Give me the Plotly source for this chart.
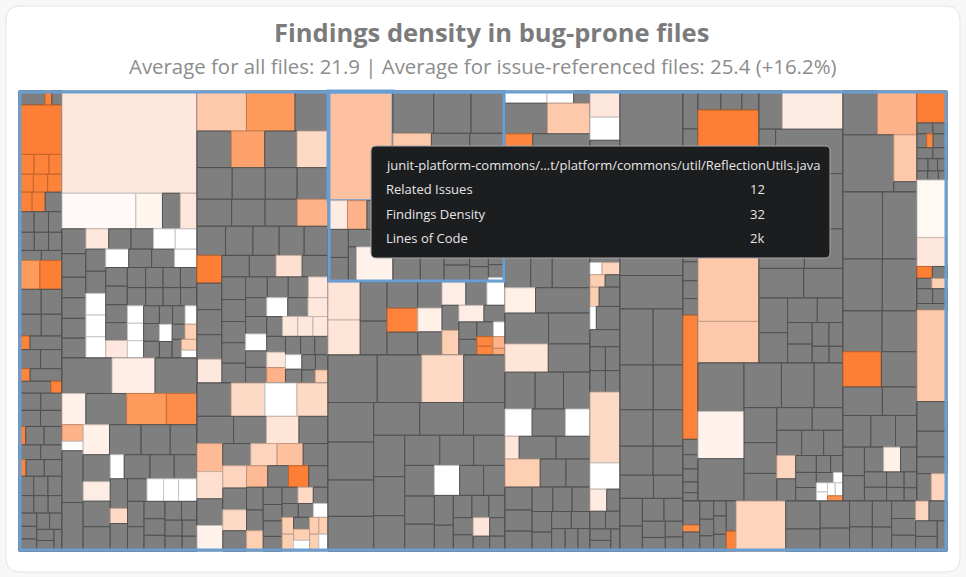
import plotly.graph_objects as go

W, H = 966, 577

# ---------------- data ----------------
# Each module is one folder of the repository. Files are sized by lines of code and
# coloured by findings density; density 0 / "other" = file not referenced by any issue (grey).
modules = ["junit-jupiter-engine/descriptor", "junit-jupiter-engine/execution",
           "junit-jupiter-engine/extension", "junit-jupiter-engine/discovery",
           "junit-jupiter-engine/support", "junit-platform-commons/util",
           "junit-platform-commons/util/function", "junit-platform-commons/support",
           "junit-platform-commons/logging", "junit-platform-launcher/core",
           "junit-platform-launcher/listeners", "junit-platform-engine/support",
           "junit-platform-console/options", "junit-jupiter-params/provider",
           "junit-jupiter-params/converter", "junit-jupiter-api/api",
           "junit-vintage-engine/execution", "junit-vintage-engine/descriptor",
           "junit-platform-suite/engine", "junit-platform-reporting/xml"]

# --- modules listed file by file in folder order ---
m01_loc = [105, 28, 41, 613, 86, 86, 74, 74, 74, 74, 74, 74, 95, 90, 85, 80, 80, 75, 70, 65, 60,
           174, 183, 160, 150, 140, 130, 43, 125, 120, 118, 40, 115, 110, 38, 108, 105, 100, 100, 36,
           98, 95, 92, 90, 34, 88, 85, 82, 80, 78, 75, 72, 70, 68, 65, 62, 60, 58, 55, 52, 50]
m01_density = [0, 50, 0, 52, 50, 50, 50, 50, 50, 50, 50, 50, 0, 0, 0, 0, 0, 0, 0, 0, 0,
               42, 52, 0, 0, 0, 0, 50, 0, 0, 0, 48, 0, 0, 50, 0, 0, 0, 0, 50,
               0, 0, 0, 0, 48, 0, 0, 0, 0, 0, 0, 0, 0, 0, 0, 0, 0, 0, 0, 0, 0]

m04_loc = [486, 418, 408, 204, 349, 340, 262, 96, 55, 300, 280, 217, 260, 240, 220, 200, 145, 190,
           180, 92, 170, 160, 150, 140, 72, 130, 120, 102, 93, 114, 115, 110, 100, 95, 90, 85, 80,
           75, 70, 65, 60]
m04_density = [0, 17, 0, 16, 0, 42, 46, 36, 10, 0, 0, 16, 0, 0, 0, 0, 17, 0,
               0, 10, 0, 0, 0, 0, 24, 0, 0, 10, 10, 10, 0, 0, 0, 0, 0, 0, 0,
               0, 0, 0, 0]

m06_loc = [2000, 157, 157, 210, 160, 140, 120, 100, 80, 360]
m06_density = [32, 18, 36, 0, 0, 0, 0, 0, 0, 15]

m08_loc = [152, 97, 59, 387, 387, 300, 620, 560, 500, 470, 450, 300, 250, 440, 230, 410, 400, 380,
           363, 350, 330, 310, 290, 220, 270, 200, 96, 250, 230, 293, 215, 200, 185, 170, 160, 150,
           140, 130, 120, 110, 100, 95, 90, 85, 80]
m08_density = [10, 10, 0, 0, 30, 48, 0, 0, 0, 0, 0, 0, 0, 0, 16, 0, 0, 0,
               20, 0, 0, 0, 0, 10, 0, 10, 20, 0, 0, 28, 0, 0, 0, 0, 0, 0,
               0, 0, 0, 0, 0, 0, 0, 0, 0]

m09_loc = [214, 189, 260, 230, 200, 180, 130, 40, 60, 51, 50, 48, 110, 40, 150, 140, 100, 95, 90, 85,
           580, 214, 101, 80, 75, 70, 65, 60, 55]
m09_density = [19, 10, 0, 0, 0, 0, 0, 10, 26, 28, 0, 28, 0, 10, 0, 0, 0, 0, 0, 0,
               24, 10, 18, 0, 0, 0, 0, 0, 0]

m11_loc = [160, 140, 120, 110, 100, 90, 80, 75, 70, 523, 65, 60, 55, 45, 35]
m11_density = [0, 0, 0, 0, 0, 0, 0, 0, 0, 50, 0, 0, 0, 0, 0]

m12_loc = [120, 110, 90, 1050, 420, 330, 260, 210, 170, 1098, 697]
m12_density = [0, 0, 0, 52, 0, 0, 0, 0, 0, 30, 30]

m13_loc = [267, 699, 223, 900, 760, 640, 540, 460, 400, 350, 300, 260, 220, 190, 160, 140, 120, 100, 85, 70]
m13_density = [0, 18, 0, 0, 0, 0, 0, 0, 0, 0, 0, 0, 0, 0, 0, 0, 0, 0, 0, 0]

m15a_loc = [430, 497, 830, 310, 68]
m15a_density = [0, 36, 0, 30, 0]

m16_loc = [248, 45, 40, 35, 23, 50, 45, 40, 35, 30, 30, 25, 25, 20, 448, 224, 47, 45, 40, 41, 60, 55,
           50, 712, 230, 200, 130, 100, 112]
m16_density = [52, 0, 0, 0, 48, 0, 0, 0, 0, 0, 0, 0, 0, 0, 13, 19, 52, 0, 0, 28, 0, 0,
               0, 30, 0, 0, 0, 0, 26]

m17_loc = [96, 28, 76, 60, 55, 50, 45, 55, 50, 70, 46, 591, 230, 180, 190, 160, 140, 130, 120, 110,
           100, 95, 90, 63, 85, 80, 75, 70]
m17_density = [0, 46, 0, 0, 0, 0, 0, 0, 0, 0, 50, 26, 0, 0, 0, 0, 0, 0, 0, 0,
               0, 0, 0, 26, 0, 0, 0, 0]

# --- modules given as issue-referenced files + other files (laid out largest first) ---
m02_issue_loc = [3934, 750, 270, 171, 108, 81, 81, 63, 63, 34, 126, 132, 120, 120, 123, 117, 123, 126, 80, 52, 48]
m02_issue_density = [19, 12, 14, 19, 19, 10, 10, 10, 10, 10, 10, 19, 10, 10, 10, 10, 10, 10, 10, 28, 28]
m02_other_loc = [180, 170, 160, 140, 140, 135, 135, 130, 130, 125, 125, 120, 120, 115, 115, 110, 110,
                 105, 100, 100, 95, 95, 90, 90, 85, 80, 80, 75, 70, 65, 60, 55, 50]

m03_issue_loc = [570, 560, 354, 327, 240, 199, 171, 162, 118, 114, 109, 103, 87, 86, 86, 84, 83, 68, 48]
m03_issue_density = [30, 42, 40, 24, 36, 52, 19, 22, 19, 10, 19, 10, 19, 19, 19, 19, 36, 10, 28]
m03_other_loc = [380, 360, 340, 320, 300, 290, 280, 270, 260, 250, 240, 230, 220, 210, 200, 190, 180,
                 175, 170, 165, 160, 155, 150, 145, 140, 135, 130, 125, 120, 115, 110, 105, 100, 95,
                 90, 85, 80, 75, 70, 65, 60, 55, 50]

m05_issue_loc = [328, 310, 300, 257, 210, 204, 191, 170, 168, 154, 145, 132, 126, 98, 73, 59, 56, 56,
                 52, 50, 45, 45, 45, 45]
m05_issue_density = [24, 10, 24, 20, 34, 22, 15, 26, 32, 26, 24, 34, 52, 28, 24, 10, 28, 28, 28, 10,
                     28, 28, 28, 10]
m05_other_loc = [330, 290, 260, 230, 200, 180, 160, 150, 140, 130, 120, 110, 100, 95, 90, 85, 80, 75,
                 70, 65, 60, 55]

m06b_issue_loc = [360, 182, 132, 20]
m06b_issue_density = [30, 14, 22, 10]
m06b_other_loc = [480, 440, 400, 360, 330, 300, 280, 260, 240, 220, 200, 190, 180, 170, 160, 150, 140,
                  130, 120, 110, 100, 90, 80, 70, 60]

m07a_issue_loc = [349, 321, 210, 165, 158, 120, 119, 119, 49, 44, 40, 40, 23]
m07a_issue_density = [20, 20, 50, 16, 17, 10, 28, 17, 10, 48, 48, 36, 38]
m07a_other_loc = [300, 260, 230, 200, 180, 160, 140, 120, 100, 90, 80, 70]

m07b_issue_loc = [527, 201, 81]
m07b_issue_density = [24, 10, 20]
m07b_other_loc = [620, 560, 520, 480, 460, 440, 420, 400, 380, 360, 340, 320, 290, 280, 270, 250, 240,
                  220, 210, 190, 170, 150, 130, 110, 100, 95, 90, 85, 75, 65, 60]

m10_issue_loc = []
m10_issue_density = []
m10_other_loc = [1150, 980, 860, 760, 680, 600, 540, 480, 430, 390, 350, 310, 280, 250, 220, 200, 180,
                 160, 140, 120, 100, 90, 80]

m14_issue_loc = [626, 126, 29, 29, 29, 29, 29, 23]
m14_issue_density = [15, 26, 10, 10, 10, 10, 10, 45]
m14_other_loc = [640, 560, 480, 420, 370, 330, 290, 260, 230, 200, 180, 160, 140, 120, 100, 90, 80, 70, 60, 50]

m15b_issue_loc = [398, 123]
m15b_issue_density = [52, 16]
m15b_other_loc = [780, 680, 600, 530, 470, 420, 370, 330, 290, 260, 230, 200, 180, 160, 140, 120, 100,
                  90, 80, 70, 60, 50]

title_text = "Findings density in bug-prone files"
subtitle_text = "Average for all files: 21.9 | Average for issue-referenced files: 25.4 (+16.2%)"
hover_path = "junit-platform-commons/…t/platform/commons/util/ReflectionUtils.java"
hover_rows = ["Related Issues", "Findings Density", "Lines of Code"]
hover_vals = ["12", "32", "2k"]


def pairs(loc, dens):
    return list(zip(loc, dens))


def split_pairs(issue_loc, issue_dens, other_loc):
    return list(zip(issue_loc, issue_dens)) + [(v, 0) for v in other_loc]


# (files, laid out largest-first?)
module_files = [
    (pairs(m01_loc, m01_density), False),
    (split_pairs(m02_issue_loc, m02_issue_density, m02_other_loc), True),
    (split_pairs(m03_issue_loc, m03_issue_density, m03_other_loc), True),
    (pairs(m04_loc, m04_density), False),
    (split_pairs(m05_issue_loc, m05_issue_density, m05_other_loc), True),
    (pairs(m06_loc, m06_density), False),
    (split_pairs(m06b_issue_loc, m06b_issue_density, m06b_other_loc), True),
    (split_pairs(m07a_issue_loc, m07a_issue_density, m07a_other_loc), True),
    (split_pairs(m07b_issue_loc, m07b_issue_density, m07b_other_loc), True),
    (pairs(m08_loc, m08_density), False),
    (pairs(m09_loc, m09_density), False),
    (split_pairs(m10_issue_loc, m10_issue_density, m10_other_loc), True),
    (pairs(m11_loc, m11_density), False),
    (pairs(m12_loc, m12_density), False),
    (pairs(m13_loc, m13_density), False),
    (split_pairs(m14_issue_loc, m14_issue_density, m14_other_loc), True),
    (pairs(m15a_loc, m15a_density), False),
    (split_pairs(m15b_issue_loc, m15b_issue_density, m15b_other_loc), True),
    (pairs(m16_loc, m16_density), False),
    (pairs(m17_loc, m17_density), False),
]

# ---------------- layout (pixel panel of each module) ----------------
panel_px = [(19, 91, 62, 551), (62, 91, 197, 358), (197, 91, 328, 383), (62, 358, 197, 551),
            (197, 383, 328, 551), (328, 91, 393, 282), (393, 91, 505, 282), (328, 282, 505, 355),
            (328, 355, 505, 551), (505, 91, 590, 551), (590, 91, 620, 551), (620, 91, 683, 551),
            (683, 91, 698, 501), (698, 91, 759, 363), (759, 91, 843, 363), (698, 363, 843, 501),
            (843, 91, 917, 192), (843, 192, 917, 501), (917, 91, 947, 501), (683, 501, 947, 551)]
highlight_px = (328, 91, 505, 282)
HOVER_MODULE, HOVER_FILE = 5, 0
BLUE = "#6a9fd3"
GRAY = "#7f7f7f"
GRAY_LINE = "#505050"

stops = [(10, (255, 255, 255)), (14, (255, 245, 239)), (19, (254, 232, 221)), (24, (253, 218, 198)),
         (30, (253, 201, 170)), (36, (253, 178, 138)), (42, (253, 154, 92)), (48, (253, 135, 62)),
         (52, (253, 127, 53))]


def dens_rgb(d):
    if d <= stops[0][0]:
        return stops[0][1]
    for (d0, c0), (d1, c1) in zip(stops, stops[1:]):
        if d <= d1:
            t = (d - d0) / (d1 - d0)
            return tuple(round(a + (b - a) * t) for a, b in zip(c0, c1))
    return stops[-1][1]


def hexc(c):
    return "#%02x%02x%02x" % c


def px_x(x):
    return x / W


def px_y(y):
    return 1 - y / H


fig = go.Figure()
for mi, name in enumerate(modules):
    files, do_sort = module_files[mi]
    root = name
    ids, labels, parents, values = [root], [name], [""], [0]
    colors, lcol, lw = [GRAY], [GRAY_LINE], [1]
    for k, (v, d) in enumerate(files):
        hovered = (mi == HOVER_MODULE and k == HOVER_FILE)
        ids.append(f"{root}/f{k}")
        labels.append("ReflectionUtils.java" if hovered else f"File{k + 1}.java")
        parents.append(root)
        values.append(v)
        if d > 0:
            c = dens_rgb(d)
            colors.append(hexc(c))
            lcol.append(BLUE if hovered else hexc(tuple(int(x * 0.78) for x in c)))
            lw.append(3 if hovered else 1)
        else:
            colors.append(GRAY)
            lcol.append(GRAY_LINE)
            lw.append(1)
    x0, y0, x1, y1 = panel_px[mi]
    fig.add_trace(go.Treemap(
        ids=ids, labels=labels, parents=parents, values=values,
        branchvalues="remainder", sort=do_sort, textinfo="none", hoverinfo="skip",
        marker=dict(colors=colors, line=dict(color=lcol, width=lw), pad=dict(t=0, l=0, r=0, b=0)),
        pathbar=dict(visible=False), tiling=dict(pad=0, packing="squarify"),
        domain=dict(x=[px_x(x0), px_x(x1)], y=[px_y(y1), px_y(y0)]),
    ))


def rounded_path(x0, y0, x1, y1, r):
    rx, ry = r / W, r / H
    X0, X1, Y0, Y1 = px_x(x0), px_x(x1), px_y(y0), px_y(y1)
    return (f"M {X0 + rx},{Y0} L {X1 - rx},{Y0} Q {X1},{Y0} {X1},{Y0 - ry} "
            f"L {X1},{Y1 + ry} Q {X1},{Y1} {X1 - rx},{Y1} L {X0 + rx},{Y1} Q {X0},{Y1} {X0},{Y1 + ry} "
            f"L {X0},{Y0 - ry} Q {X0},{Y0} {X0 + rx},{Y0} Z")


shapes = [
    dict(type="path", xref="paper", yref="paper", path=rounded_path(6, 6, 960, 572, 14),
         fillcolor="white", line=dict(color="#e4e4e4", width=1), layer="below"),
    dict(type="rect", xref="paper", yref="paper", x0=px_x(20), x1=px_x(946), y0=px_y(550), y1=px_y(92),
         line=dict(color=BLUE, width=3), layer="above"),
]
hx0, hy0, hx1, hy1 = highlight_px
shapes.append(dict(type="rect", xref="paper", yref="paper", x0=px_x(hx0 + 1), x1=px_x(hx1 - 1),
                   y0=px_y(hy1 - 1), y1=px_y(hy0 + 1), line=dict(color=BLUE, width=3), layer="above"))
# tooltip box
shapes.append(dict(type="path", xref="paper", yref="paper", path=rounded_path(371, 146, 830, 258, 5),
                   fillcolor="#1c1d1f", line=dict(color="#a8a8a8", width=1), layer="above"))

FONT = "Open Sans"
annotations = [
    dict(text=f"<b>{title_text}</b>", x=px_x(492), y=px_y(32), xref="paper", yref="paper",
         showarrow=False, xanchor="center", yanchor="middle",
         font=dict(family=FONT, size=25.5, color="#7b7b7b")),
    dict(text=subtitle_text, x=px_x(483), y=px_y(66), xref="paper", yref="paper",
         showarrow=False, xanchor="center", yanchor="middle",
         font=dict(family=FONT, size=20.4, color="#8c8c8c")),
    dict(text=hover_path, x=px_x(384), y=px_y(165), xref="paper", yref="paper", showarrow=False,
         xanchor="left", yanchor="middle", font=dict(family=FONT, size=13, color="#e6e6e6")),
]
for r, (lab, val) in enumerate(zip(hover_rows, hover_vals)):
    yy = 189 + r * 24.5
    annotations.append(dict(text=lab, x=px_x(384), y=px_y(yy), xref="paper", yref="paper",
                            showarrow=False, xanchor="left", yanchor="middle",
                            font=dict(family=FONT, size=13, color="#e6e6e6")))
    annotations.append(dict(text=val, x=px_x(748), y=px_y(yy), xref="paper", yref="paper",
                            showarrow=False, xanchor="left", yanchor="middle",
                            font=dict(family=FONT, size=13, color="#e6e6e6")))

fig.update_layout(width=W, height=H, margin=dict(l=0, r=0, t=0, b=0), paper_bgcolor="#f7f7f7",
                  showlegend=False, shapes=shapes, annotations=annotations)
fig.write_html("out.html")
